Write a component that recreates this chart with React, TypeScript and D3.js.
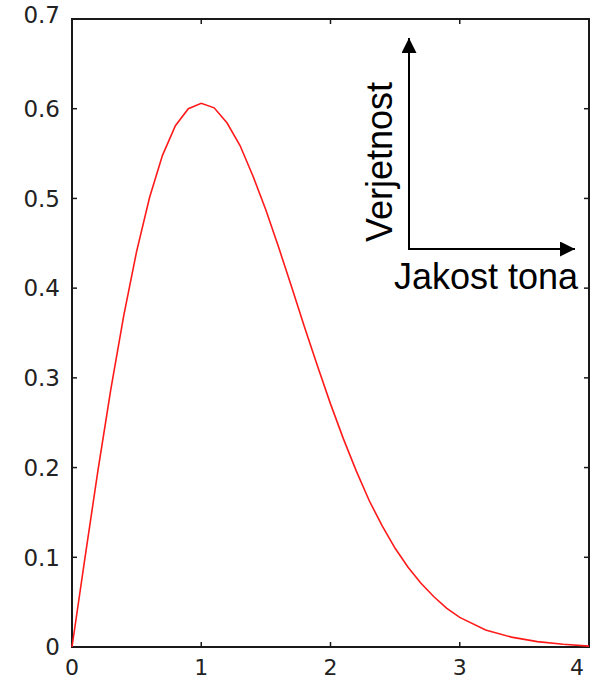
import { useEffect, useRef } from 'react';
import * as d3 from 'd3';

// values
const xValues = [0, 0.1, 0.2, 0.3, 0.4, 0.5, 0.6, 0.7, 0.8, 0.9, 1.0, 1.1, 1.2, 1.3, 1.4, 1.5, 1.6, 1.7, 1.8, 1.9, 2.0,
  2.1, 2.2, 2.3, 2.4, 2.5, 2.6, 2.7, 2.8, 2.9, 3.0, 3.2, 3.4, 3.6, 3.8, 4.0];
const yValues = [0, 0.099, 0.196, 0.287, 0.369, 0.441, 0.501, 0.548, 0.581, 0.600, 0.606, 0.601, 0.584, 0.559, 0.525,
  0.487, 0.445, 0.401, 0.356, 0.313, 0.271, 0.232, 0.196, 0.163, 0.135, 0.110, 0.089, 0.071, 0.056, 0.043, 0.033,
  0.019, 0.011, 0.006, 0.003, 0.001];
const xTicks = [0, 1, 2, 3, 4];
const yTicks = [0, 0.1, 0.2, 0.3, 0.4, 0.5, 0.6, 0.7];
const yAxisLabel = 'Verjetnost';
const xAxisLabel = 'Jakost tona';

export default function App() {
  const svgRef = useRef<SVGSVGElement>(null);
  const width = 598;
  const height = 682;

  useEffect(() => {
    const svg = d3.select(svgRef.current);
    svg.selectAll('*').remove();

    const left = 72, right = 589, top = 19, bottom = 647;
    const x = d3.scaleLinear().domain([0, 4]).range([left, right]);
    const y = d3.scaleLinear().domain([0, 0.7]).range([bottom, top]);

    const axisColor = '#1a1a1a';
    const tickFont = '"DejaVu Sans", sans-serif';

    // frame
    svg.append('rect')
      .attr('x', left).attr('y', top)
      .attr('width', right - left).attr('height', bottom - top)
      .attr('fill', 'none').attr('stroke', axisColor).attr('stroke-width', 2);

    // inward ticks on all four sides
    const ticks = svg.append('g').attr('stroke', axisColor).attr('stroke-width', 1.5);
    xTicks.forEach(t => {
      ticks.append('line').attr('x1', x(t)).attr('x2', x(t)).attr('y1', bottom).attr('y2', bottom - 5);
      ticks.append('line').attr('x1', x(t)).attr('x2', x(t)).attr('y1', top).attr('y2', top + 5);
    });
    yTicks.forEach(t => {
      ticks.append('line').attr('x1', left).attr('x2', left + 5).attr('y1', y(t)).attr('y2', y(t));
      ticks.append('line').attr('x1', right).attr('x2', right - 5).attr('y1', y(t)).attr('y2', y(t));
    });

    // tick labels
    svg.append('g').selectAll('text')
      .data(yTicks)
      .enter()
      .append('text')
      .attr('x', left - 12)
      .attr('y', d => y(d))
      .attr('dy', d => (d === 0.7 ? '0.18em' : '0.36em'))
      .attr('text-anchor', 'end')
      .attr('font-family', tickFont)
      .attr('font-size', 23)
      .attr('fill', '#222')
      .text(d => String(d));

    svg.append('g').selectAll('text')
      .data(xTicks)
      .enter()
      .append('text')
      .attr('x', d => x(d) - (d === 4 ? 12 : 0))
      .attr('y', bottom + 28)
      .attr('text-anchor', 'middle')
      .attr('font-family', tickFont)
      .attr('font-size', 22)
      .attr('fill', '#222')
      .text(d => String(d));

    // curve
    const line = d3.line<number>()
      .x((_, i) => x(xValues[i]))
      .y(d => y(d));

    svg.append('path')
      .datum(yValues)
      .attr('d', line)
      .attr('fill', 'none')
      .attr('stroke', '#ff1a1a')
      .attr('stroke-width', 1.6);

    // inset arrows
    const defs = svg.append('defs');
    defs.append('marker')
      .attr('id', 'arrowHead')
      .attr('viewBox', '0 0 10 10')
      .attr('refX', 10).attr('refY', 5)
      .attr('markerWidth', 7.5).attr('markerHeight', 7.5)
      .attr('markerUnits', 'strokeWidth')
      .attr('orient', 'auto')
      .append('path')
      .attr('d', 'M0,0 L10,5 L0,10 Z')
      .attr('fill', '#000');

    const ox = 409, oy = 249;
    svg.append('line')
      .attr('x1', ox).attr('y1', oy + 1).attr('x2', ox).attr('y2', 38)
      .attr('stroke', '#000').attr('stroke-width', 2)
      .attr('marker-end', 'url(#arrowHead)');
    svg.append('line')
      .attr('x1', ox - 1).attr('y1', oy).attr('x2', 575).attr('y2', oy)
      .attr('stroke', '#000').attr('stroke-width', 2)
      .attr('marker-end', 'url(#arrowHead)');

    svg.append('text')
      .attr('transform', `translate(392,162) rotate(-90)`)
      .attr('text-anchor', 'middle')
      .attr('font-family', '"Liberation Sans", Arial, sans-serif')
      .attr('font-size', 36)
      .attr('fill', '#000')
      .text(yAxisLabel);

    svg.append('text')
      .attr('x', 486)
      .attr('y', 289)
      .attr('text-anchor', 'middle')
      .attr('font-family', '"Liberation Sans", Arial, sans-serif')
      .attr('font-size', 36)
      .attr('fill', '#000')
      .text(xAxisLabel);
  }, []);

  return (
    <svg
      ref={svgRef}
      width={width}
      height={height}
      style={{ position: 'absolute', left: 0, top: 0, background: '#fff' }}
    />
  );
}
